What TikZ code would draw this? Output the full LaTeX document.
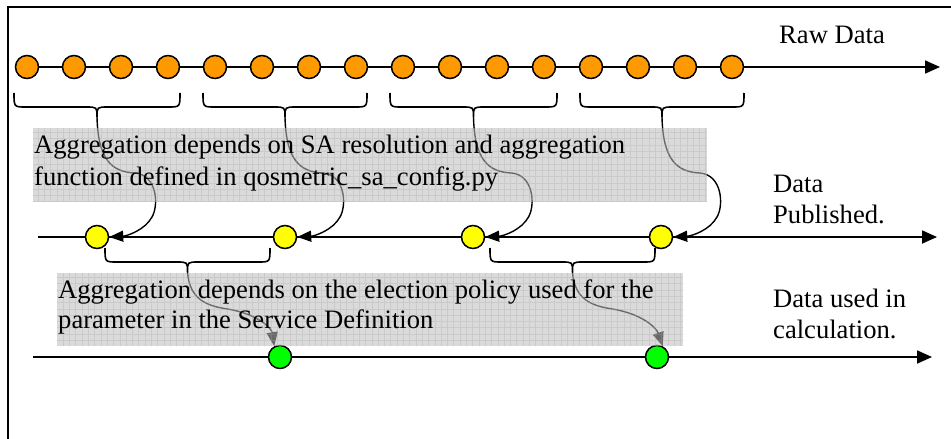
\documentclass[tikz,border=0pt]{standalone}
\usepackage{fontspec}
\setmainfont{Liberation Serif}
\usetikzlibrary{arrows.meta,calc}

\definecolor{orangeraw}{HTML}{FF9900}
\definecolor{pubyellow}{HTML}{FFFF00}
\definecolor{usedgreen}{HTML}{00FF00}
\definecolor{boxgrey}{gray}{0.74}

% curly brace opening upward: x1, x2, top y, flat y, tip y
\newcommand\hbrace[5]{%
  \draw[brc] (#1,#3) .. controls (#1,#4) .. ({#1+12},#4)
    -- ({(#1+#2)/2-11},#4) .. controls ({(#1+#2)/2},#4) .. ({(#1+#2)/2},#5)
    .. controls ({(#1+#2)/2},#4) .. ({(#1+#2)/2+11},#4)
    -- ({#2-12},#4) .. controls (#2,#4) .. (#2,#3);}

% S-shaped feed from a brace tip, hooking back into a published point
\newcommand\feedup[2]{%
  \draw[feed] (#1) .. controls ($(#1)+(1,43)$) and ($(#1)+(15,55)$) .. ($(#1)+(38,56)$)
    .. controls ($(#1)+(60,58)$) and ($(#1)+(62,88)$) .. ($(#1)+(55,100)$)
    .. controls ($(#1)+(48,113)$) and ($(#1)+(30,119)$) .. (#2.east);}

% feed from a lower brace tip down to a point used in calculation
\newcommand\feeddown[2]{%
  \draw[feed] (#1) .. controls ($(#1)+(2,28)$) and ($(#1)+(20,34)$) .. ($(#1)+(40,37)$)
    .. controls ($(#1)+(70,42)$) and ($(#1)+(84,56)$) .. (#2);}

\begin{document}
\begin{tikzpicture}[x=1pt,y=-1pt,
  axis/.style={line width=1.8pt, -{Triangle[length=15pt,width=13pt]}},
  dot/.style={circle, draw, line width=1.5pt, minimum size=23pt, inner sep=0pt},
  raw/.style={dot, fill=orangeraw},
  pub/.style={dot, fill=pubyellow},
  used/.style={dot, fill=usedgreen},
  brc/.style={line width=1.6pt},
  feed/.style={line width=1.4pt, -{Triangle[length=14pt,width=11pt]}},
  lbl/.style={anchor=base west, inner sep=0pt, font=\fontsize{26.6}{31}\selectfont},
  shade/.style={fill=boxgrey, fill opacity=0.56},
  gridline/.style={draw=gray!70, line width=0.4pt, opacity=0.3},
]
\useasboundingbox (0,0) rectangle (951,439);

% frame
\draw[line width=1.6pt] (8,439) -- (8,7) -- (951,7);

% time axes
\coordinate (rawS) at (15,67);   \coordinate (rawE) at (940,67);
\coordinate (pubS) at (38,237);  \coordinate (pubE) at (937,237);
\coordinate (usedS) at (33,357); \coordinate (usedE) at (932,357);
\draw[axis] (rawS) -- (rawE);
\draw[axis] (pubS) -- (pubE);
\draw[axis] (usedS) -- (usedE);

% raw samples
\foreach \i in {0,...,15}
  \node[raw] (r\i) at ({27+47*\i},67) {};

% published points
\foreach \i/\x in {0/97,1/285,2/473,3/661}
  \node[pub] (p\i) at (\x,237) {};

% points used in calculation
\node[used] (u0) at (280,357) {};
\node[used] (u1) at (657,357) {};

% braces grouping the raw samples
\hbrace{14}{180}{93}{107}{117}
\hbrace{203}{367}{93}{107}{117}
\hbrace{390}{557}{93}{107}{117}
\hbrace{580}{744}{93}{107}{117}
\coordinate (ta) at (97,117);
\coordinate (tb) at (285,117);
\coordinate (tc) at (473.5,117);
\coordinate (td) at (662,117);

% braces grouping the published points
\hbrace{105}{270}{248}{262}{272}
\hbrace{490}{655}{248}{262}{272}
\coordinate (te) at (187.5,272);
\coordinate (tf) at (572.5,272);

% aggregation feeds
\feedup{ta}{p0}
\feedup{tb}{p1}
\feedup{tc}{p2}
\feedup{td}{p3}
\feeddown{te}{u0.118}
\feeddown{tf}{u1.62}

% shaded annotation boxes
\fill[shade] (33,128) rectangle (707,202);
\begin{scope}
  \clip (33,128) rectangle (707,202);
  \draw[gridline] (33,128) grid[step=6.3pt] (707,202);
\end{scope}
\fill[shade] (57,273) rectangle (683,346);
\begin{scope}
  \clip (57,273) rectangle (683,346);
  \draw[gridline] (57,273) grid[step=6.3pt] (683,346);
\end{scope}

% annotations
\node[lbl] (note1a) at (34,153) {Aggregation depends on SA resolution and aggregation};
\node[lbl] (note1b) at (34,185) {function defined in qosmetric\_sa\_config.py};
\node[lbl] (note2a) at (58,298) {Aggregation depends on the election policy used for the};
\node[lbl] (note2b) at (58,328) {parameter in the Service Definition};

% axis labels
\node[lbl] (lraw) at (779,43) {Raw Data};
\node[lbl] (lpub1) at (773,192) {Data};
\node[lbl] (lpub2) at (773,223) {Published.};
\node[lbl] (lused1) at (773,307) {Data used in};
\node[lbl] (lused2) at (773,338) {calculation.};
\end{tikzpicture}
\end{document}
